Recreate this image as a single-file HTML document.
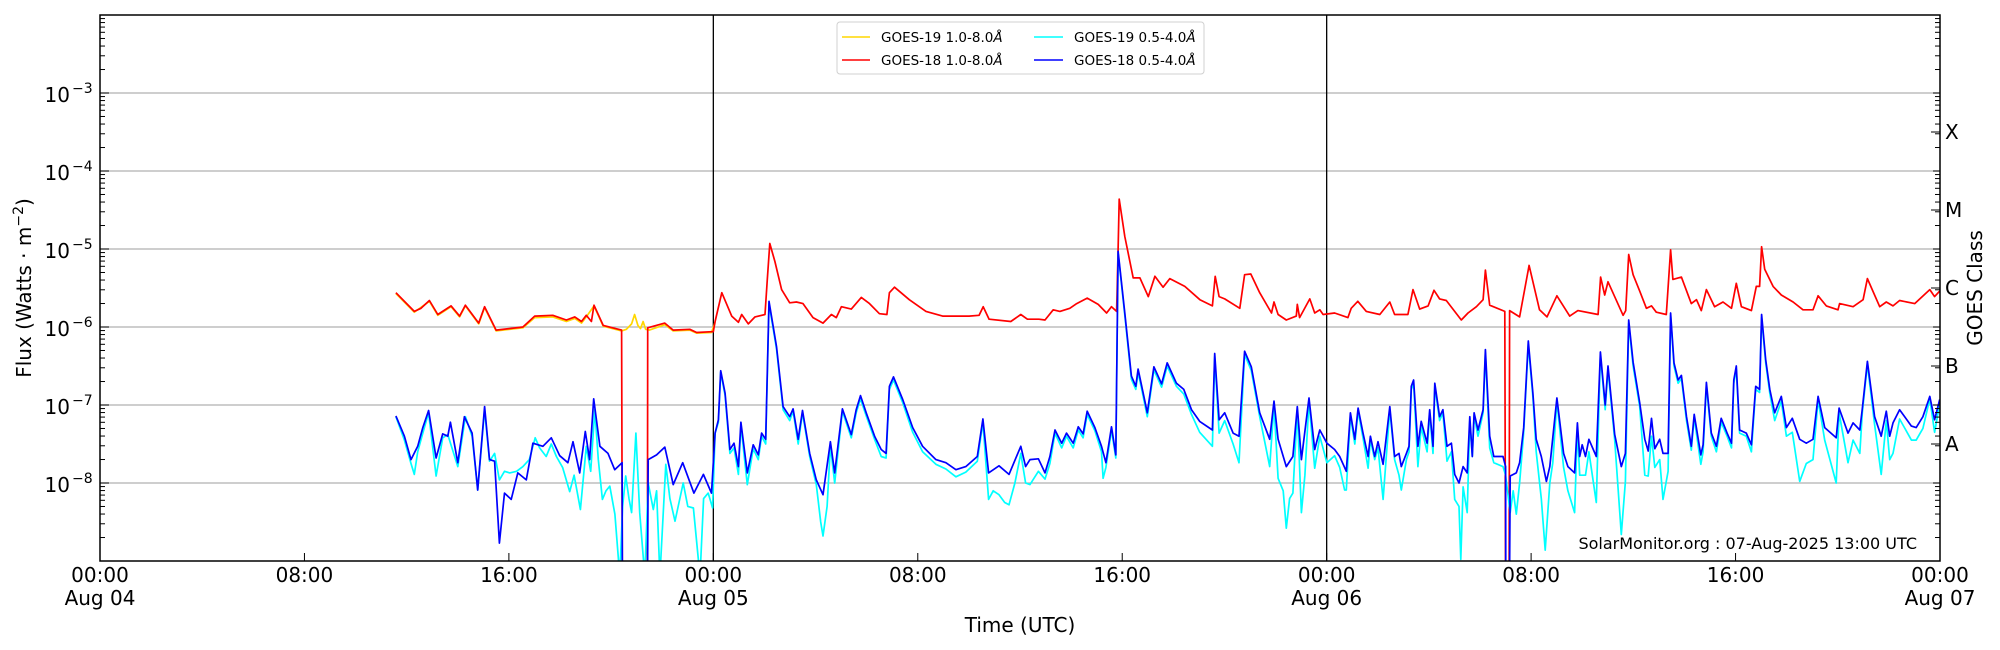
<!DOCTYPE html>
<html><head><meta charset="utf-8"><title>GOES X-ray Flux</title>
<style>
html,body{margin:0;padding:0;background:#fff;}
svg{display:block;font-family:"DejaVu Sans","Liberation Sans",sans-serif;}
</style></head>
<body>
<svg id="chart" width="2000" height="650" viewBox="0 0 2000 650" xmlns="http://www.w3.org/2000/svg">
  <defs><clipPath id="plotclip"><rect x="100" y="15" width="1840" height="546"/></clipPath></defs>
  <rect x="0" y="0" width="2000" height="650" fill="#fff"/>
  <g id="grid"></g>
  <g id="series" clip-path="url(#plotclip)"></g>
  <g id="axes"></g>
  <text transform="translate(31,288) rotate(-90)" text-anchor="middle" font-size="20">Flux (Watts · m<tspan dy="-8" font-size="14">−2</tspan><tspan dy="8">)</tspan></text>
  <text x="1020" y="632" text-anchor="middle" font-size="20">Time (UTC)</text>
  <text transform="translate(1982,288) rotate(-90)" text-anchor="middle" font-size="20">GOES Class</text>
  <text x="1917" y="549" text-anchor="end" font-size="16">SolarMonitor.org : 07-Aug-2025 13:00 UTC</text>
  <g>
    <rect x="837" y="22" width="367" height="52" rx="3" fill="#fff" stroke="#d0d0d0" stroke-width="1"/>
    <g><line x1="842" y1="37" x2="870" y2="37" stroke="#ffd700" stroke-width="1.5"/><text x="881" y="42" font-size="13.5">GOES-19 1.0-8.0<tspan font-style="italic">Å</tspan></text></g>
    <g><line x1="842" y1="60" x2="870" y2="60" stroke="#ff0000" stroke-width="1.5"/><text x="881" y="65" font-size="13.5">GOES-18 1.0-8.0<tspan font-style="italic">Å</tspan></text></g>
    <g><line x1="1034" y1="37" x2="1063" y2="37" stroke="#00ffff" stroke-width="1.5"/><text x="1074" y="42" font-size="13.5">GOES-19 0.5-4.0<tspan font-style="italic">Å</tspan></text></g>
    <g><line x1="1034" y1="60" x2="1063" y2="60" stroke="#0000ff" stroke-width="1.5"/><text x="1074" y="65" font-size="13.5">GOES-18 0.5-4.0<tspan font-style="italic">Å</tspan></text></g>
  </g>
</svg>
<script>
// ---- data: hours since 2025-08-04 00:00 UTC, log10 flux (W/m^2); null = data gap ----
const g18LongTimes = [11.58,12.30,12.56,12.89,13.22,13.74,14.07,14.30,14.82,15.05,15.50,16.55,17.01,17.72,18.25,18.58,18.84,19.03,19.23,19.33,19.69,20.41,20.44,20.9,21.42,21.43,22.10,22.43,23.08,23.35,23.93,24.0,24.07,24.33,24.72,24.98,25.11,25.37,25.63,26.02,26.11,26.21,26.41,26.67,26.99,27.25,27.51,27.90,28.29,28.62,28.81,29.01,29.40,29.79,30.11,30.50,30.79,30.89,31.09,31.67,32.32,32.97,34.01,34.40,34.56,34.79,35.64,36.03,36.29,36.74,36.98,37.30,37.56,37.95,38.22,38.63,39.06,39.39,39.58,39.78,39.84,39.88,40.10,40.43,40.69,41.02,41.28,41.60,41.86,42.45,43.04,43.53,43.64,43.79,44.01,44.60,44.79,45.03,45.38,45.84,45.94,46.10,46.42,46.81,46.85,46.94,47.34,47.53,47.73,47.86,48.31,48.83,48.96,49.22,49.55,50.08,50.47,50.66,51.18,51.38,51.64,51.97,52.20,52.42,52.68,53.27,53.53,53.86,54.12,54.21,54.38,54.97,55.00,55.08,55.14,55.16,55.55,55.92,56.33,56.62,57.01,57.51,57.83,58.62,58.72,58.88,59.01,59.60,59.70,59.82,59.99,60.25,60.51,60.71,60.90,61.29,61.46,61.55,61.88,62.27,62.47,62.66,62.86,63.18,63.51,63.84,64.03,64.23,64.62,64.81,64.94,65.02,65.14,65.47,65.79,66.25,66.64,67.03,67.23,67.55,68.01,68.07,68.60,68.99,69.16,69.64,69.90,70.16,70.42,71.01,71.60,71.79,71.99];
const g18LongLog10 = [-5.56,-5.80,-5.76,-5.66,-5.84,-5.73,-5.86,-5.72,-5.95,-5.74,-6.04,-6.00,-5.86,-5.85,-5.91,-5.87,-5.93,-5.85,-5.93,-5.72,-5.98,-6.04,-9.5,null,-9.5,-6.01,-5.95,-6.04,-6.03,-6.07,-6.06,-6.06,-5.93,-5.56,-5.86,-5.94,-5.84,-5.96,-5.87,-5.84,-5.39,-4.93,-5.16,-5.52,-5.69,-5.68,-5.70,-5.88,-5.95,-5.84,-5.88,-5.74,-5.77,-5.62,-5.70,-5.83,-5.84,-5.56,-5.49,-5.65,-5.80,-5.86,-5.86,-5.85,-5.74,-5.90,-5.93,-5.84,-5.90,-5.90,-5.91,-5.78,-5.80,-5.76,-5.70,-5.63,-5.71,-5.82,-5.74,-5.80,-5.01,-4.36,-4.84,-5.37,-5.37,-5.61,-5.35,-5.49,-5.38,-5.48,-5.65,-5.73,-5.35,-5.61,-5.64,-5.76,-5.33,-5.32,-5.56,-5.82,-5.68,-5.84,-5.91,-5.86,-5.71,-5.88,-5.64,-5.82,-5.78,-5.84,-5.82,-5.88,-5.76,-5.67,-5.80,-5.84,-5.68,-5.84,-5.84,-5.52,-5.77,-5.73,-5.53,-5.64,-5.66,-5.91,-5.82,-5.74,-5.65,-5.27,-5.72,-5.80,-9.5,null,-9.5,-5.79,-5.87,-5.21,-5.78,-5.87,-5.60,-5.86,-5.79,-5.84,-5.36,-5.59,-5.42,-5.85,-5.79,-5.07,-5.33,-5.54,-5.76,-5.73,-5.81,-5.84,-5.01,-5.39,-5.36,-5.70,-5.65,-5.79,-5.52,-5.74,-5.68,-5.76,-5.44,-5.74,-5.79,-5.48,-5.48,-4.97,-5.26,-5.48,-5.59,-5.68,-5.78,-5.78,-5.60,-5.73,-5.78,-5.70,-5.74,-5.65,-5.38,-5.74,-5.68,-5.73,-5.66,-5.70,-5.52,-5.61,-5.54];

const g19LongTimes = [11.58,12.30,12.89,13.22,13.74,14.07,14.30,14.82,15.05,15.50,16.55,17.01,17.72,18.25,18.58,18.84,19.03,19.33,19.69,20.41,20.60,20.80,20.92,21.05,21.15,21.25,21.35,21.50,22.10,22.43,23.08,23.35,23.93,24.07];
const g19LongLog10 = [-5.57,-5.81,-5.67,-5.85,-5.74,-5.87,-5.73,-5.96,-5.75,-6.05,-6.01,-5.88,-5.87,-5.93,-5.89,-5.95,-5.87,-5.73,-5.99,-6.05,-6.03,-5.96,-5.84,-5.98,-6.02,-5.93,-6.03,-6.04,-5.97,-6.05,-6.04,-6.08,-6.07,-5.94];

const g18ShortTimes = [11.58,11.91,12.17,12.43,12.63,12.86,13.15,13.41,13.61,13.71,14.00,14.26,14.56,14.78,15.05,15.24,15.44,15.63,15.83,16.09,16.35,16.68,16.94,17.33,17.66,17.99,18.31,18.51,18.77,18.99,19.16,19.32,19.56,19.88,20.14,20.43,20.44,20.9,21.42,21.45,21.78,22.10,22.43,22.80,23.24,23.61,23.93,24.07,24.20,24.29,24.46,24.65,24.81,24.98,25.08,25.33,25.56,25.76,25.89,26.05,26.18,26.47,26.73,26.99,27.12,27.32,27.49,27.77,28.03,28.29,28.58,28.75,29.05,29.40,29.59,29.76,29.98,30.31,30.57,30.76,30.89,31.05,31.41,31.80,32.19,32.71,33.10,33.49,33.88,34.33,34.55,34.77,35.18,35.57,36.03,36.22,36.39,36.72,36.98,37.17,37.37,37.63,37.82,38.08,38.28,38.47,38.63,38.93,39.19,39.36,39.58,39.75,39.84,40.10,40.36,40.53,40.62,40.75,40.98,41.24,41.54,41.76,42.12,42.41,42.71,43.03,43.53,43.62,43.79,44.01,44.34,44.57,44.79,45.05,45.38,45.77,45.94,46.10,46.42,46.68,46.85,47.01,47.31,47.53,47.73,48.01,48.31,48.51,48.77,48.93,49.10,49.23,49.42,49.62,49.71,49.88,50.01,50.21,50.47,50.66,50.83,50.92,51.12,51.22,51.31,51.40,51.57,51.70,51.93,52.03,52.16,52.23,52.42,52.55,52.71,52.88,53.01,53.18,53.34,53.50,53.60,53.70,53.77,53.92,54.12,54.21,54.38,54.54,54.90,55.00,55.01,55.08,55.15,55.18,55.42,55.55,55.71,55.89,56.07,56.20,56.40,56.60,56.73,57.01,57.27,57.44,57.70,57.81,57.90,58.00,58.13,58.26,58.55,58.71,58.90,59.01,59.27,59.53,59.69,59.82,59.99,60.25,60.45,60.58,60.71,60.84,61.03,61.16,61.36,61.46,61.59,61.75,61.88,62.08,62.27,62.38,62.64,62.73,62.86,63.05,63.25,63.44,63.67,63.84,63.93,64.03,64.16,64.42,64.62,64.79,64.94,65.02,65.18,65.34,65.53,65.79,65.99,66.22,66.51,66.77,67.03,67.23,67.49,67.94,68.05,68.40,68.60,68.86,68.96,69.16,69.44,69.70,69.90,70.03,70.16,70.42,70.88,71.07,71.33,71.60,71.79,71.99];
const g18ShortLog10 = [-7.14,-7.40,-7.70,-7.53,-7.29,-7.07,-7.68,-7.37,-7.40,-7.22,-7.74,-7.15,-7.36,-8.09,-7.02,-7.70,-7.72,-8.77,-8.13,-8.21,-7.87,-7.96,-7.49,-7.53,-7.42,-7.65,-7.74,-7.47,-7.87,-7.34,-7.70,-6.92,-7.53,-7.62,-7.83,-7.74,-9.5,null,-9.5,-7.70,-7.64,-7.54,-8.02,-7.74,-8.13,-7.89,-8.13,-7.36,-7.19,-6.56,-6.85,-7.57,-7.49,-7.79,-7.22,-7.87,-7.51,-7.64,-7.36,-7.44,-5.67,-6.25,-7.02,-7.15,-7.05,-7.44,-7.07,-7.62,-7.96,-8.15,-7.47,-7.87,-7.05,-7.38,-7.06,-6.88,-7.10,-7.40,-7.57,-7.62,-6.76,-6.64,-6.93,-7.29,-7.53,-7.70,-7.74,-7.83,-7.79,-7.66,-7.18,-7.87,-7.78,-7.89,-7.53,-7.79,-7.70,-7.69,-7.87,-7.66,-7.32,-7.49,-7.36,-7.49,-7.28,-7.37,-7.08,-7.29,-7.53,-7.74,-7.28,-7.64,-5.03,-5.82,-6.63,-6.76,-6.54,-6.74,-7.10,-6.51,-6.73,-6.46,-6.72,-6.80,-7.06,-7.21,-7.32,-6.34,-7.19,-7.10,-7.36,-7.40,-6.31,-6.51,-7.10,-7.44,-6.95,-7.44,-7.79,-7.66,-7.02,-7.70,-6.91,-7.57,-7.32,-7.49,-7.57,-7.66,-7.85,-7.10,-7.44,-7.04,-7.36,-7.66,-7.40,-7.66,-7.47,-7.76,-7.02,-7.66,-7.62,-7.79,-7.62,-7.53,-6.76,-6.68,-7.53,-7.21,-7.49,-7.06,-7.53,-6.72,-7.15,-7.06,-7.53,-7.49,-7.89,-8.00,-7.79,-7.87,-7.15,-7.66,-7.10,-7.32,-7.06,-6.29,-7.40,-7.66,-7.66,-7.79,-9.5,null,-9.5,-7.91,-7.87,-7.74,-7.29,-6.18,-6.85,-7.44,-7.66,-7.98,-7.79,-6.91,-7.62,-7.79,-7.87,-7.23,-7.66,-7.51,-7.66,-7.44,-7.66,-6.32,-7.00,-6.50,-7.38,-7.79,-7.62,-5.91,-6.45,-6.97,-7.44,-7.59,-7.17,-7.56,-7.44,-7.62,-7.62,-5.82,-6.46,-6.68,-6.62,-7.15,-7.53,-7.12,-7.64,-7.51,-6.71,-7.36,-7.53,-7.17,-7.36,-7.49,-6.68,-6.50,-7.32,-7.36,-7.51,-6.76,-6.80,-5.84,-6.42,-6.80,-7.10,-6.89,-7.29,-7.17,-7.44,-7.49,-7.44,-6.89,-7.29,-7.42,-7.04,-7.36,-7.23,-7.32,-7.05,-6.44,-7.15,-7.40,-7.08,-7.40,-7.23,-7.06,-7.27,-7.29,-7.15,-6.89,-7.19,-6.93];

const g19ShortTimes = [11.58,11.91,12.17,12.30,12.43,12.63,12.86,13.15,13.41,13.61,14.00,14.30,14.56,14.78,15.05,15.24,15.44,15.63,15.83,16.03,16.30,16.55,16.80,17.03,17.20,17.46,17.66,17.86,18.10,18.38,18.55,18.80,19.03,19.20,19.36,19.50,19.66,19.80,19.95,20.15,20.34,20.45,20.57,20.70,20.80,20.97,21.05,21.12,21.32,21.45,21.65,21.78,21.91,22.14,22.30,22.50,22.82,23.00,23.22,23.48,23.62,23.80,23.97,24.07,24.20,24.29,24.46,24.65,24.81,24.98,25.08,25.33,25.56,25.76,25.89,26.05,26.18,26.47,26.73,26.99,27.12,27.32,27.49,27.77,28.03,28.20,28.29,28.45,28.58,28.75,29.05,29.40,29.59,29.76,29.98,30.31,30.57,30.76,30.89,31.05,31.41,31.80,32.19,32.71,33.10,33.49,33.88,34.33,34.55,34.77,34.95,35.18,35.40,35.57,35.80,36.03,36.22,36.39,36.72,36.98,37.17,37.37,37.63,37.82,38.08,38.28,38.47,38.63,38.93,39.19,39.25,39.36,39.58,39.75,39.84,40.10,40.36,40.53,40.62,40.75,40.98,41.24,41.54,41.76,42.12,42.41,42.71,43.03,43.53,43.62,43.79,44.01,44.34,44.57,44.79,45.05,45.38,45.77,45.94,46.10,46.30,46.42,46.55,46.68,46.85,47.01,47.15,47.31,47.53,47.73,48.01,48.31,48.51,48.70,48.77,48.93,49.10,49.23,49.42,49.62,49.71,49.88,50.01,50.21,50.47,50.66,50.83,50.92,51.12,51.22,51.31,51.40,51.57,51.70,51.93,52.03,52.16,52.23,52.42,52.55,52.71,52.88,53.01,53.18,53.25,53.34,53.50,53.60,53.70,53.77,53.92,54.12,54.21,54.38,54.54,54.90,55.00,55.18,55.30,55.42,55.55,55.71,55.89,56.07,56.20,56.40,56.55,56.73,56.85,57.01,57.27,57.44,57.70,57.81,57.90,58.13,58.26,58.55,58.71,58.90,59.01,59.27,59.53,59.69,59.82,59.99,60.25,60.45,60.58,60.71,60.84,61.03,61.16,61.36,61.46,61.59,61.75,61.88,62.08,62.27,62.38,62.64,62.73,62.86,63.05,63.25,63.44,63.67,63.84,63.93,64.03,64.16,64.42,64.62,64.79,64.94,65.02,65.18,65.34,65.53,65.79,65.99,66.22,66.51,66.77,67.03,67.23,67.49,67.94,68.05,68.40,68.60,68.86,68.96,69.16,69.44,69.70,69.90,70.03,70.16,70.42,70.88,71.07,71.33,71.60,71.79,71.99];
const g19ShortLog10 = [-7.15,-7.45,-7.75,-7.89,-7.60,-7.36,-7.10,-7.91,-7.42,-7.38,-7.79,-7.15,-7.40,-8.09,-7.06,-7.72,-7.62,-7.96,-7.85,-7.87,-7.85,-7.79,-7.70,-7.42,-7.55,-7.66,-7.50,-7.66,-7.80,-8.11,-7.90,-8.34,-7.53,-7.85,-7.06,-7.70,-8.21,-8.10,-8.04,-8.40,-9.20,-8.30,-7.91,-8.20,-8.38,-7.36,-7.90,-8.38,-9.20,-8.00,-8.34,-8.10,-9.20,-7.76,-8.20,-8.49,-8.00,-8.30,-8.32,-9.20,-8.20,-8.13,-8.32,-7.36,-7.22,-6.58,-6.88,-7.62,-7.55,-7.89,-7.26,-8.02,-7.56,-7.70,-7.40,-7.50,-5.70,-6.28,-7.06,-7.20,-7.08,-7.50,-7.10,-7.66,-8.02,-8.50,-8.68,-8.30,-7.52,-8.00,-7.08,-7.42,-7.10,-6.92,-7.14,-7.44,-7.66,-7.68,-6.80,-6.68,-6.97,-7.35,-7.60,-7.76,-7.82,-7.92,-7.86,-7.72,-7.22,-8.21,-8.10,-8.15,-8.25,-8.28,-8.00,-7.62,-8.00,-8.02,-7.85,-7.95,-7.75,-7.36,-7.55,-7.40,-7.55,-7.32,-7.42,-7.12,-7.33,-7.60,-7.94,-7.80,-7.32,-7.68,-5.05,-5.85,-6.67,-6.80,-6.58,-6.78,-7.15,-6.55,-6.77,-6.50,-6.76,-6.86,-7.12,-7.35,-7.53,-6.38,-7.36,-7.20,-7.50,-7.74,-6.35,-6.56,-7.15,-7.79,-7.00,-7.94,-8.10,-8.58,-8.20,-8.13,-7.06,-8.38,-7.90,-6.95,-7.81,-7.40,-7.74,-7.65,-7.80,-8.09,-8.09,-7.14,-7.50,-7.08,-7.42,-7.81,-7.45,-7.70,-7.55,-8.21,-7.06,-7.70,-7.90,-8.09,-7.70,-7.60,-6.80,-6.72,-7.79,-7.28,-7.60,-7.10,-7.62,-6.76,-7.20,-7.10,-7.72,-7.60,-8.21,-8.30,-8.98,-8.05,-8.38,-7.20,-7.66,-7.14,-7.40,-7.10,-6.33,-7.55,-7.74,-7.79,-7.90,-8.38,-8.10,-8.40,-8.00,-7.35,-6.22,-6.90,-7.60,-8.20,-8.86,-8.00,-7.74,-6.95,-7.80,-8.10,-8.38,-7.30,-7.90,-7.90,-7.60,-8.25,-6.36,-7.06,-6.55,-7.45,-8.66,-7.98,-5.95,-6.50,-7.02,-7.90,-7.91,-7.40,-7.80,-7.70,-8.21,-7.85,-5.85,-6.50,-6.72,-6.66,-7.20,-7.58,-7.16,-7.76,-7.60,-6.75,-7.40,-7.60,-7.22,-7.40,-7.55,-6.72,-6.54,-7.36,-7.40,-7.60,-6.80,-6.84,-5.88,-6.46,-6.85,-7.20,-6.95,-7.40,-7.35,-7.98,-7.75,-7.70,-6.93,-7.45,-8.00,-7.10,-7.74,-7.45,-7.62,-7.10,-6.48,-7.25,-7.89,-7.20,-7.70,-7.62,-7.18,-7.45,-7.45,-7.30,-6.92,-7.35,-6.98];

// ---- axis tick labels ----
const xTickHours = [0,8,16,24,32,40,48,56,64,72];
const xTickTimes = ["00:00","08:00","16:00","00:00","08:00","16:00","00:00","08:00","16:00","00:00"];
const xTickDates = ["Aug 04","","","Aug 05","","","Aug 06","","","Aug 07"];
const yTickExps = [-8,-7,-6,-5,-4,-3];
const classLabels = ["A","B","C","M","X"];
const classLog10 = [-7.5,-6.5,-5.5,-4.5,-3.5];
const dayLineHours = [24,48];

// ---- scales ----
const PL=100, PR=1940, PT=15, PB=561;
const HMIN=0, HMAX=72, LMIN=-9, LMAX=-2;
function xScale(h){return PL+(h-HMIN)/(HMAX-HMIN)*(PR-PL);}
function yScale(l){return PB-(l-LMIN)/(LMAX-LMIN)*(PB-PT);}

const NS="http://www.w3.org/2000/svg";
function mk(tag,attrs,parent){const e=document.createElementNS(NS,tag);for(const k in attrs)e.setAttribute(k,attrs[k]);parent.appendChild(e);return e;}
const grid=document.getElementById('grid'), series=document.getElementById('series'), axes=document.getElementById('axes');

// gridlines
yTickExps.forEach(function(e){
  const l=mk('line',{x1:PL,x2:PR,y1:yScale(e),y2:yScale(e),stroke:'#b0b0b0','stroke-width':1.2},grid);
  
  
});
dayLineHours.forEach(function(h){
  const l=mk('line',{x1:xScale(h),x2:xScale(h),y1:PT,y2:PB,stroke:'#000','stroke-width':1.3},grid);
  
  
});

function drawSeries(times,vals,color,name){
  let d='',pen=false;
  for(let i=0;i<times.length;i++){
    if(vals[i]===null){pen=false;continue;}
    d+=(pen?'L':'M')+xScale(times[i]).toFixed(1)+','+yScale(vals[i]).toFixed(1);
    pen=true;
  }
  const p=mk('path',{d:d,fill:'none',stroke:color,'stroke-width':1.7,'stroke-linejoin':'round'},series);
  
  
}
drawSeries(g19LongTimes,g19LongLog10,'#ffd700','goes19-long-line');
drawSeries(g18LongTimes,g18LongLog10,'#ff0000','goes18-long-line');
drawSeries(g19ShortTimes,g19ShortLog10,'#00ffff','goes19-short-line');
drawSeries(g18ShortTimes,g18ShortLog10,'#0000ff','goes18-short-line');

// frame
const frame=mk('rect',{x:PL,y:PT,width:PR-PL,height:PB-PT,fill:'none',stroke:'#000','stroke-width':1.5},axes);



// y ticks (left and right, inward)
for(let e=LMIN;e<LMAX;e++){
  for(let m=1;m<10;m++){
    const l=e+Math.log10(m); if(l>LMAX) break;
    const y=yScale(l), len=(m===1)?9:5;
    const t1=mk('line',{x1:PL,x2:PL+len,y1:y,y2:y,stroke:'#000','stroke-width':1},axes);
    
    
    const t2=mk('line',{x1:PR,x2:PR-(m===1?7:5),y1:y,y2:y,stroke:'#000','stroke-width':1},axes);
    
    
  }
}
yTickExps.forEach(function(e){
  const t=mk('text',{x:70,y:yScale(e)+9,'text-anchor':'end','font-size':20},axes);
  
  
  t.textContent='10';
  const s=mk('tspan',{x:72,dy:-9,'font-size':14,'text-anchor':'start'},t);
  s.textContent='−'+Math.abs(e);
});
classLog10.forEach(function(l,i){
  const y=yScale(l);
  const tk=mk('line',{x1:PR,x2:PR-9,y1:y,y2:y,stroke:'#000','stroke-width':1},axes);
  
  
  const t=mk('text',{x:PR+5,y:y+7,'font-size':20},axes);
  
  
  t.textContent=classLabels[i];
});
// x ticks
xTickHours.forEach(function(h,i){
  const x=xScale(h);
  const tk=mk('line',{x1:x,x2:x,y1:PB,y2:PB-8,stroke:'#000','stroke-width':1},axes);
  
  
  const t=mk('text',{x:x,y:582,'text-anchor':'middle','font-size':20},axes);
  
  
  t.textContent=xTickTimes[i];
  if(xTickDates[i]){
    const d=mk('text',{x:x,y:605,'text-anchor':'middle','font-size':20},axes);
    
    
    d.textContent=xTickDates[i];
  }
});
</script>
</body></html>
